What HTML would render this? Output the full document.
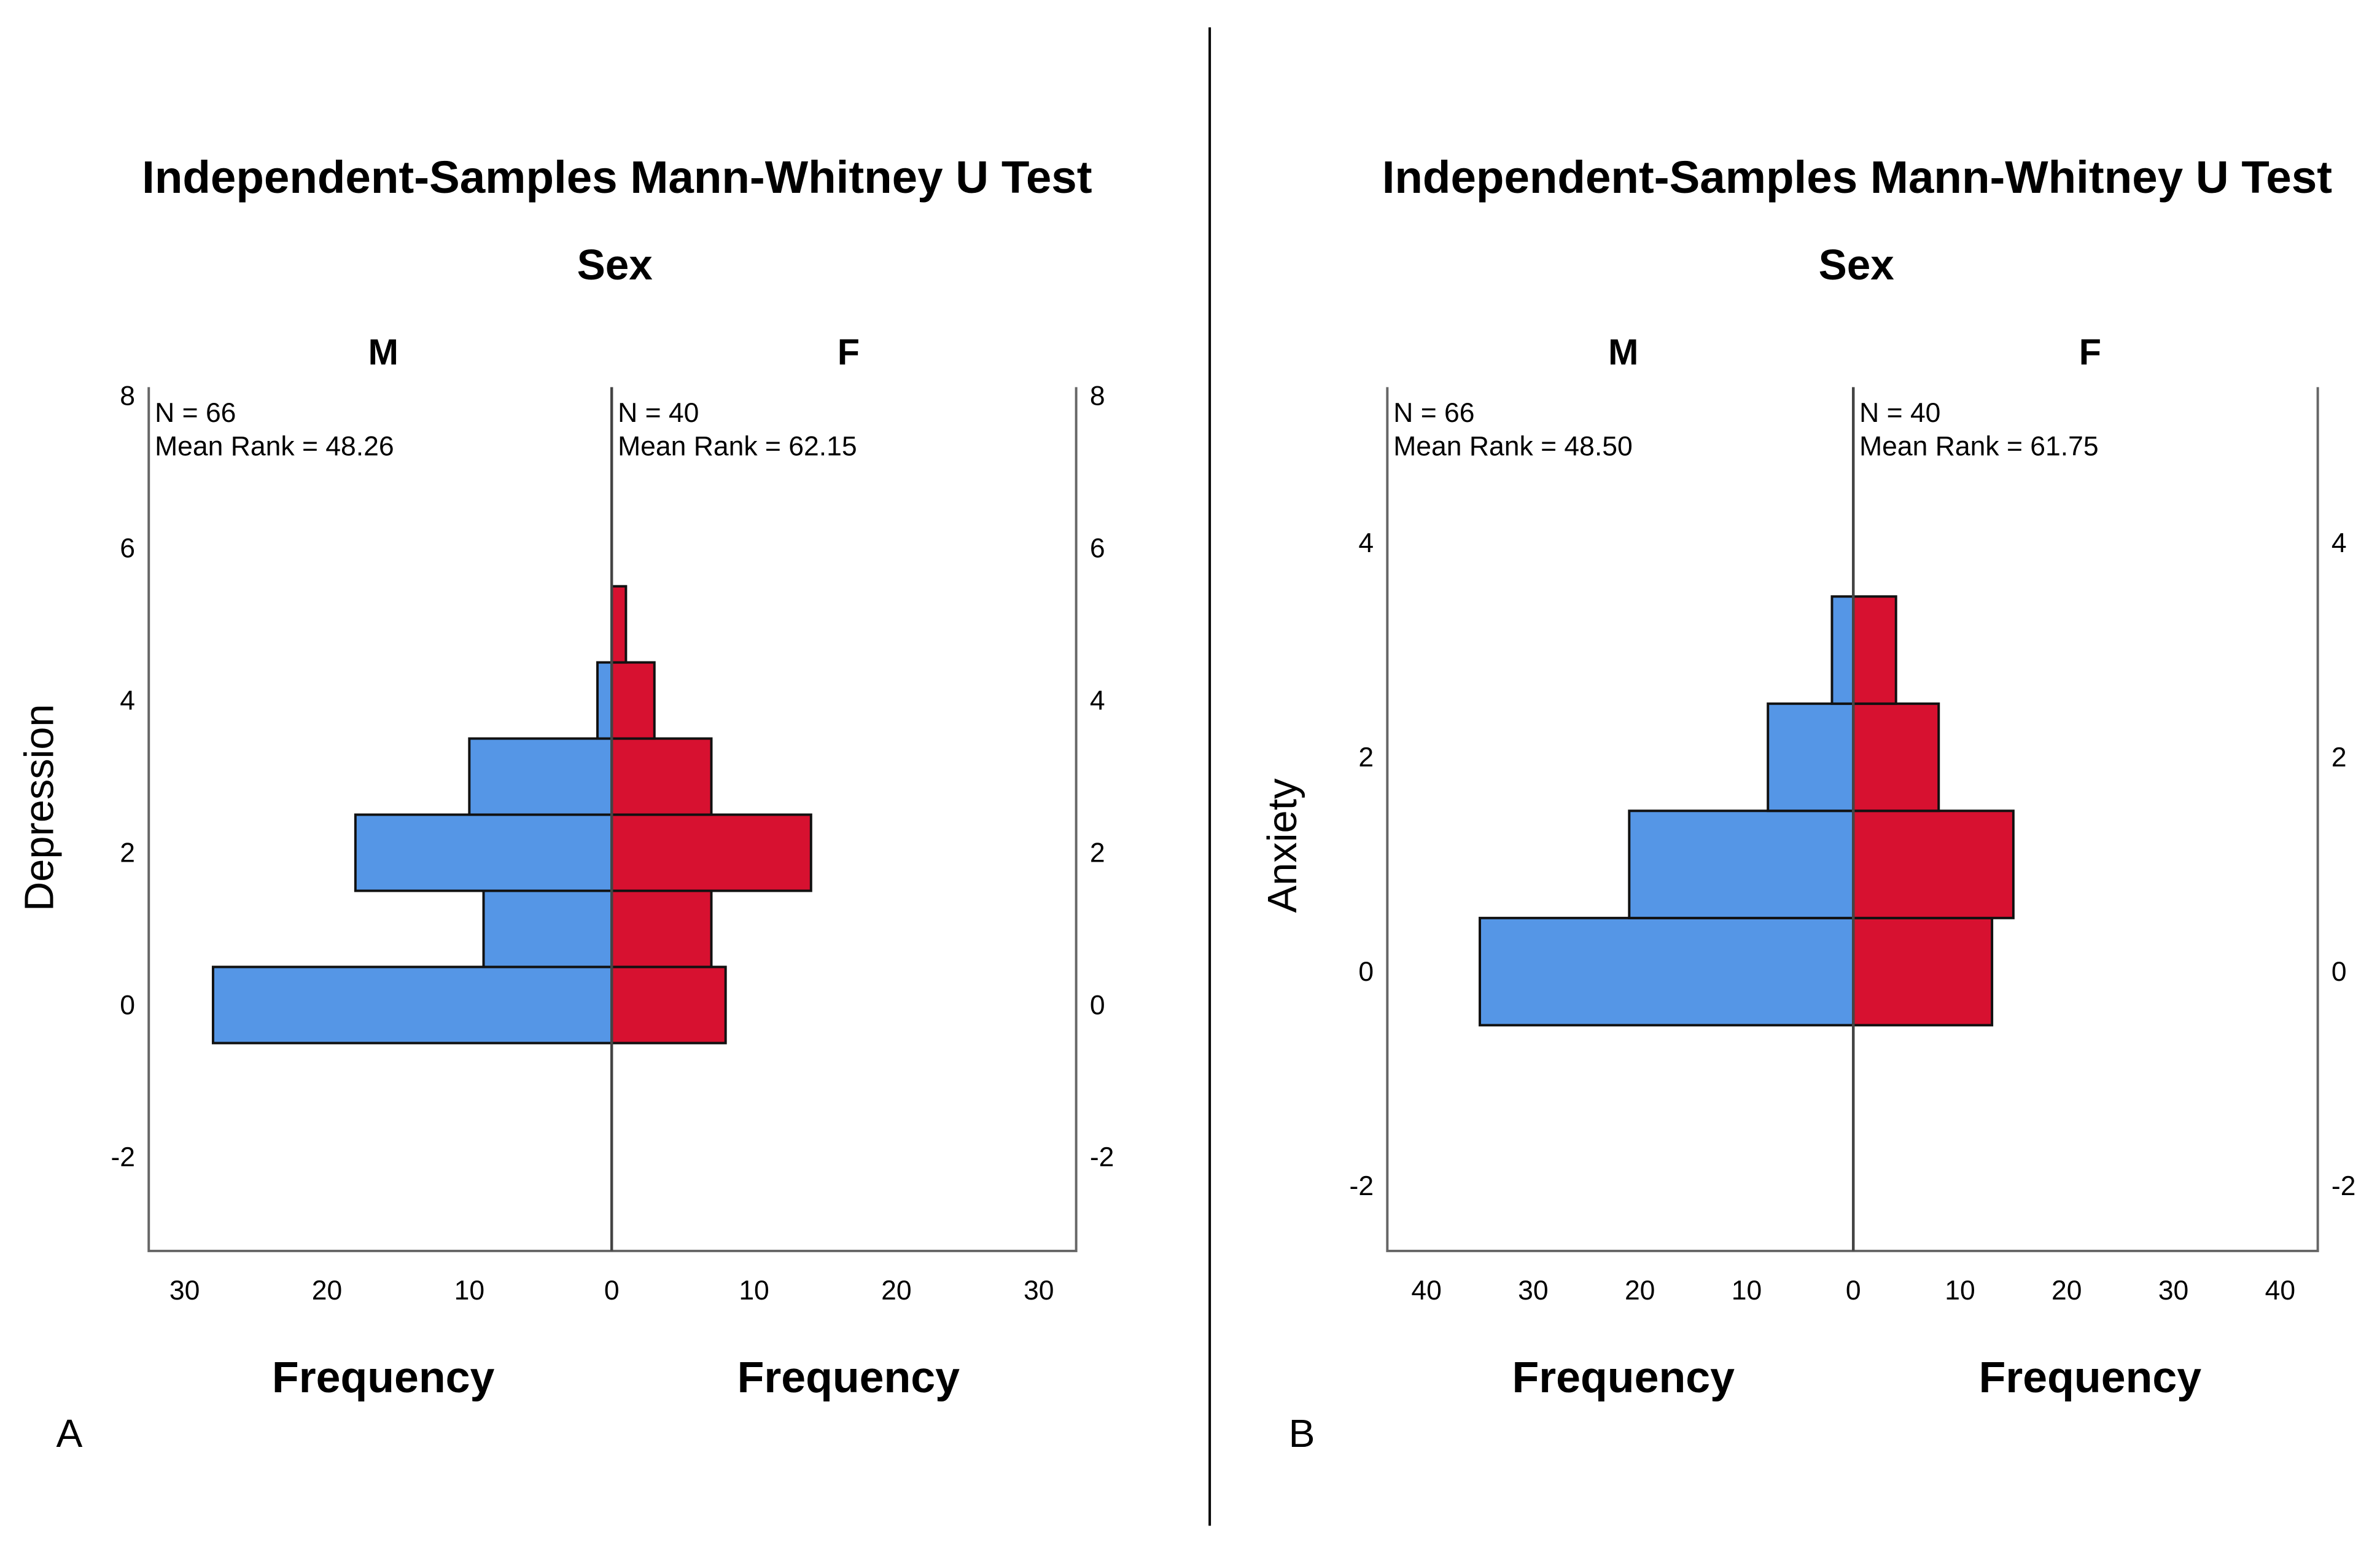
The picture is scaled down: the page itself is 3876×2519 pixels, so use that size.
<!DOCTYPE html>
<html><head><meta charset="utf-8"><style>
html,body{margin:0;padding:0;background:#fff;}
svg{display:block;font-family:"Liberation Sans",Arial,sans-serif;}
</style></head><body>
<svg id="chart" width="3876" height="2519" viewBox="0 0 1568 1019" xmlns="http://www.w3.org/2000/svg">
<rect x="0" y="0" width="1568" height="1019" fill="#fff"/>
<line x1="797" y1="18" x2="797" y2="1005" stroke="#000" stroke-width="1.6"/>
<g id="panels"></g>
</svg>
<script>
// Panel A (Depression)
const binsA = [0, 1, 2, 3, 4, 5];
const maleA = [28, 9, 18, 10, 1, 0];
const femaleA = [8, 7, 14, 7, 3, 1];
const yTicksA = [-2, 0, 2, 4, 6, 8];
const xTicksA = [0, 10, 20, 30];
const statsA = ["N = 66", "Mean Rank = 48.26", "N = 40", "Mean Rank = 62.15"];
// Panel B (Anxiety)
const binsB = [0, 1, 2, 3];
const maleB = [35, 21, 8, 2];
const femaleB = [13, 15, 8, 4];
const yTicksB = [-2, 0, 2, 4];
const xTicksB = [0, 10, 20, 30, 40];
const statsB = ["N = 66", "Mean Rank = 48.50", "N = 40", "Mean Rank = 61.75"];

const NS = "http://www.w3.org/2000/svg";
const root = document.getElementById('panels');
function mk(tag, attrs, parent, text) {
  const e = document.createElementNS(NS, tag);
  for (const k in attrs) e.setAttribute(k, attrs[k]);
  if (text !== undefined) e.textContent = text;
  (parent || root).appendChild(e);
  return e;
}

function panel(cfg) {
  const g = mk('g', {});
  
  
  const L = cfg.left, C = cfg.center, R = cfg.right, top = 255, bottom = 824;
  const yS = v => cfg.y0 - (v) * cfg.yUnit;
  const xR = v => C + v * cfg.xUnit;
  const xL = v => C - v * cfg.xUnit;
  const mid = C;

  let t = mk('text', {x: (L + R) / 2 + 3, y: 127, 'text-anchor': 'middle', 'font-size': 30, 'font-weight': 'bold', textLength: 626, lengthAdjust: 'spacingAndGlyphs'}, g, 'Independent-Samples Mann-Whitney U Test');
  
  
  t = mk('text', {x: mid + 2, y: 184, 'text-anchor': 'middle', 'font-size': 28, 'font-weight': 'bold'}, g, 'Sex');
  
  
  t = mk('text', {x: (L + C) / 2 + 2, y: 240, 'text-anchor': 'middle', 'font-size': 24, 'font-weight': 'bold'}, g, 'M');
  
  
  t = mk('text', {x: (C + R) / 2 + 3, y: 240, 'text-anchor': 'middle', 'font-size': 24, 'font-weight': 'bold'}, g, 'F');
  
  

  // bars
  cfg.bins.forEach((b, i) => {
    const y1 = yS(b + 0.5), y2 = yS(b - 0.5);
    if (cfg.male[i] > 0) {
      const r = mk('rect', {x: xL(cfg.male[i]), y: y1, width: cfg.male[i] * cfg.xUnit, height: y2 - y1, fill: '#5596E6', stroke: '#111', 'stroke-width': 1.6}, g);
      
      
    }
    if (cfg.female[i] > 0) {
      const r = mk('rect', {x: C, y: y1, width: cfg.female[i] * cfg.xUnit, height: y2 - y1, fill: '#D71130', stroke: '#111', 'stroke-width': 1.6}, g);
      
      
    }
  });

  // axes
  let a = mk('path', {d: `M${L},${top} V${bottom} H${R} V${top}`, fill: 'none', stroke: '#666', 'stroke-width': 1.6}, g);
  
  
  a = mk('line', {x1: C, y1: top, x2: C, y2: bottom, stroke: '#444', 'stroke-width': 1.8}, g);
  
  

  cfg.yTicks.forEach(v => {
    let e = mk('text', {x: L - 9, y: yS(v) + 6, 'text-anchor': 'end', 'font-size': 18}, g, String(v));
    
    
    e = mk('text', {x: R + 9, y: yS(v) + 6, 'text-anchor': 'start', 'font-size': 18}, g, String(v));
    
    
  });
  cfg.xTicks.forEach(v => {
    let e = mk('text', {x: xL(v), y: 856, 'text-anchor': 'middle', 'font-size': 18}, g, String(v));
    
    
    if (v !== 0) {
      e = mk('text', {x: xR(v), y: 856, 'text-anchor': 'middle', 'font-size': 18}, g, String(v));
      
      
    }
  });

  // stats
  [[L + 4, 278, 0], [L + 4, 300, 1], [C + 4, 278, 2], [C + 4, 300, 3]].forEach(p => {
    const e = mk('text', {x: p[0], y: p[1], 'font-size': 18}, g, cfg.stats[p[2]]);
    
    
  });

  t = mk('text', {x: (L + C) / 2 + 2, y: 917, 'text-anchor': 'middle', 'font-size': 29, 'font-weight': 'bold'}, g, 'Frequency');
  
  
  t = mk('text', {x: (C + R) / 2 + 3, y: 917, 'text-anchor': 'middle', 'font-size': 29, 'font-weight': 'bold'}, g, 'Frequency');
  
  
  t = mk('text', {x: 0, y: 0, 'text-anchor': 'middle', 'font-size': 27, transform: `translate(${cfg.ytX},${cfg.ytY}) rotate(-90)`}, g, cfg.ytitle);
  
  
  t = mk('text', {x: cfg.labelX, y: 953, 'font-size': 26}, g, cfg.label);
  
  
}

panel({name: 'panel-a', left: 98, center: 403, right: 709, y0: 662, yUnit: 50.15, xUnit: 9.38,
  bins: binsA, male: maleA, female: femaleA, yTicks: yTicksA, xTicks: xTicksA, stats: statsA,
  ytitle: 'Depression', ytX: 35, ytY: 532, label: 'A', labelX: 37});
panel({name: 'panel-b', left: 914, center: 1221, right: 1527, y0: 640, yUnit: 70.6, xUnit: 7.03,
  bins: binsB, male: maleB, female: femaleB, yTicks: yTicksB, xTicks: xTicksB, stats: statsB,
  ytitle: 'Anxiety', ytX: 854, ytY: 557, label: 'B', labelX: 849});
</script>
</body></html>
